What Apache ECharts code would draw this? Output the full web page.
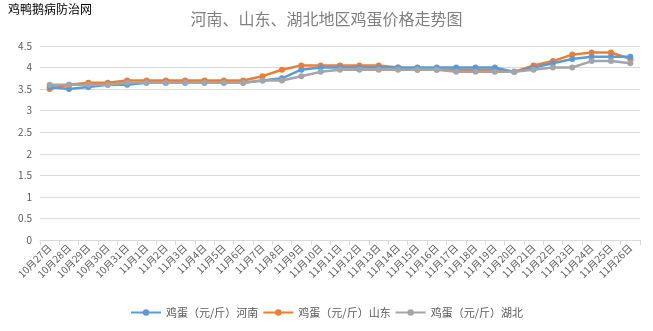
<!DOCTYPE html>
<html><head><meta charset="utf-8">
<script src="https://cdn.jsdelivr.net/npm/echarts@6/dist/echarts.min.js"></script>
<style>html,body{margin:0;padding:0;background:#fff}#c{width:653px;height:331px}</style>
</head><body><div id="c"></div>
<script>
const categories = ["10月27日","10月28日","10月29日","10月30日","10月31日","11月1日","11月2日","11月3日","11月4日","11月5日","11月6日","11月7日","11月8日","11月9日","11月10日","11月11日","11月12日","11月13日","11月14日","11月15日","11月16日","11月17日","11月18日","11月19日","11月20日","11月21日","11月22日","11月23日","11月24日","11月25日","11月26日"];
const henan =    [3.55,3.5,3.55,3.6,3.6,3.65,3.65,3.65,3.65,3.65,3.65,3.7,3.75,3.95,4.0,4.0,4.0,4.0,4.0,4.0,4.0,4.0,4.0,4.0,3.9,4.0,4.1,4.2,4.25,4.25,4.25];
const shandong = [3.5,3.6,3.65,3.65,3.7,3.7,3.7,3.7,3.7,3.7,3.7,3.8,3.95,4.05,4.05,4.05,4.05,4.05,4.0,3.95,3.95,3.95,3.95,3.95,3.9,4.05,4.15,4.3,4.35,4.35,4.2];
const hubei =    [3.6,3.6,3.6,3.6,3.65,3.65,3.65,3.65,3.65,3.65,3.65,3.7,3.7,3.8,3.9,3.95,3.95,3.95,3.95,3.95,3.95,3.9,3.9,3.9,3.9,3.95,4.0,4.0,4.15,4.15,4.1];
const seriesNames = ["鸡蛋（元/斤）河南","鸡蛋（元/斤）山东","鸡蛋（元/斤）湖北"];
const colors = ["#5B9BD5","#ED7D31","#A5A5A5"];
const chart = echarts.init(document.getElementById('c'));
const mk = (name, data, color, z) => ({
  name, type:'line', data, z, symbol:'circle', symbolSize:6,
  lineStyle:{color, width:2.5}, itemStyle:{color}
});
chart.setOption({
  animation:false,
  textStyle:{fontFamily:'"Noto Sans CJK SC", sans-serif'},
  graphic:[{type:'text', left:8, top:3, style:{text:'鸡鸭鹅病防治网', fill:'#000', font:'12px "Noto Sans CJK SC"'}}],
  title:{text:'河南、山东、湖北地区鸡蛋价格走势图', left:'center', top:6,
    textStyle:{color:'#7f7f7f', fontSize:16, fontWeight:'normal'}},
  legend:{bottom:8, itemWidth:30, itemHeight:8, itemGap:4,
    textStyle:{color:'#595959', fontSize:11},
    data:seriesNames},
  grid:{left:40, right:13, top:46, bottom:91, containLabel:false},
  xAxis:{type:'category', data:categories, boundaryGap:true,
    axisLine:{lineStyle:{color:'#d9d9d9'}},
    axisTick:{show:true, length:5, lineStyle:{color:'#d9d9d9'}},
    axisLabel:{rotate:45, color:'#595959', fontSize:10, interval:0, margin:6}},
  yAxis:{type:'value', min:0, max:4.5, interval:0.5,
    axisLine:{show:false}, axisTick:{show:false},
    axisLabel:{color:'#595959', fontSize:10, margin:8},
    splitLine:{lineStyle:{color:'#d9d9d9'}}},
  series:[mk(seriesNames[0], henan, colors[0], 3), mk(seriesNames[1], shandong, colors[1], 2), mk(seriesNames[2], hubei, colors[2], 4)]
});
</script></body></html>
